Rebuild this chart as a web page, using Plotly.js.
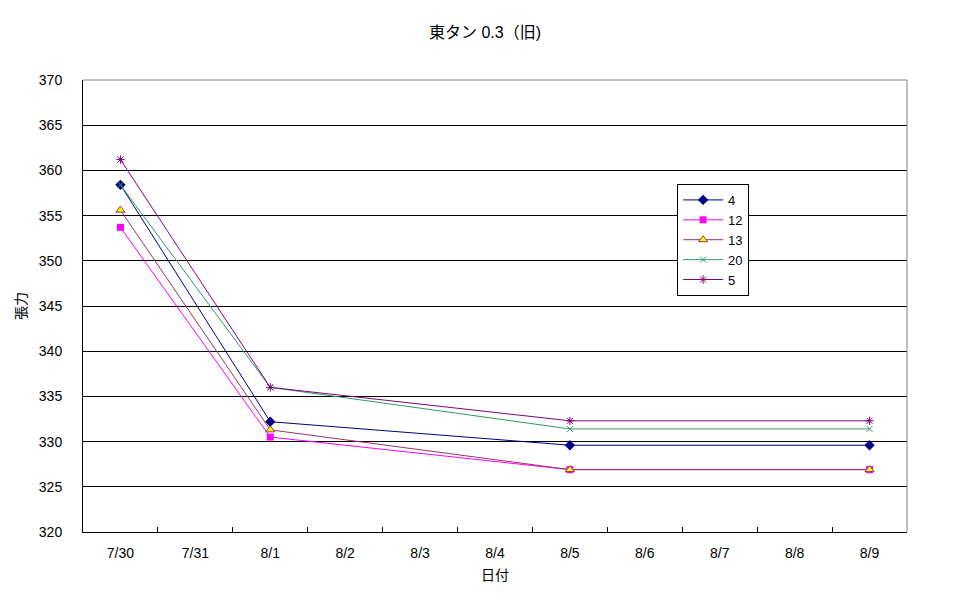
<!DOCTYPE html>
<html>
<head>
<meta charset="utf-8">
<script src="https://cdn.plot.ly/plotly-3.0.1.min.js"></script>
<style>html,body{margin:0;padding:0;background:#fff;}#chart{width:970px;height:603px;}</style>
</head>
<body>
<div id="chart"></div>
<script>
const dates = ['7/30','7/31','8/1','8/2','8/3','8/4','8/5','8/6','8/7','8/8','8/9'];
const s4  = [358.4, null, 332.2, null, null, null, 329.6, null, null, null, 329.6];
const s12 = [353.7, null, 330.5, null, null, null, 326.9, null, null, null, 326.9];
const s13 = [355.6, null, 331.3, null, null, null, 326.9, null, null, null, 326.9];
const s20 = [358.4, null, 336.0, null, null, null, 331.4, null, null, null, 331.4];
const s5  = [361.2, null, 336.0, null, null, null, 332.3, null, null, null, 332.3];
const seriesNames = ['4','12','13','20','5'];

const FONT = 'Liberation Sans, Arial, "Noto Sans CJK JP", sans-serif';

function tr(name, y, lineColor, marker) {
  return {
    type: 'scatter', mode: 'lines+markers', name: name,
    x: dates, y: y, connectgaps: true,
    line: {color: lineColor, width: 1},
    marker: marker
  };
}

const data = [
  tr(seriesNames[0], s4, '#000080', {symbol: 'diamond', size: 8, color: '#000080'}),
  tr(seriesNames[1], s12, '#FF00FF', {symbol: 'square', size: 7, color: '#FF00FF'}),
  tr(seriesNames[2], s13, '#993366', {symbol: 'triangle-up', size: 8, color: '#FFFF00', line: {color: '#993366', width: 1}}),
  tr(seriesNames[3], s20, '#339966', {symbol: 'x-thin', size: 6, color: '#339966', line: {color: '#339966', width: 1}}),
  tr(seriesNames[4], s5, '#800080', {symbol: 'asterisk', size: 7, color: '#800080', line: {color: '#800080', width: 1}})
];

const layout = {
  width: 970, height: 603,
  paper_bgcolor: '#ffffff', plot_bgcolor: '#ffffff',
  margin: {l: 83, r: 63, t: 80, b: 71},
  font: {family: FONT, size: 14, color: '#000'},
  title: {text: '東タン 0.3（旧)', x: 0.5, xref: 'container', y: 0.947, yanchor: 'middle', font: {family: FONT, size: 16, color: '#000'}},
  showlegend: true,
  legend: {
    x: 0.721, y: 0.770, xanchor: 'left', yanchor: 'top',
    bordercolor: '#000', borderwidth: 1, bgcolor: '#fff',
    font: {family: FONT, size: 13, color: '#000'},
    tracegroupgap: 0, itemwidth: 40
  },
  xaxis: {
    type: 'category', categoryorder: 'array', categoryarray: dates,
    range: [-0.5, 10.5],
    showgrid: false, zeroline: false,
    showline: true, linecolor: '#000', linewidth: 1,
    ticks: 'inside', tickson: 'boundaries', ticklen: 5, tickcolor: '#000', tickwidth: 1,
    ticklabelstandoff: 8,
    tickfont: {family: FONT, size: 14, color: '#000'},
    title: {text: '日付', font: {family: FONT, size: 14, color: '#000'}, standoff: 10},
    fixedrange: true
  },
  yaxis: {
    range: [320, 370], dtick: 5, tick0: 320,
    showgrid: true, gridcolor: '#000', gridwidth: 1,
    zeroline: false,
    showline: true, linecolor: '#000', linewidth: 1,
    ticks: '', ticklabelstandoff: 17,
    tickfont: {family: FONT, size: 14, color: '#000'},
    title: {text: '張力', font: {family: FONT, size: 14, color: '#000'}, standoff: 8},
    fixedrange: true
  },
  shapes: [
    {type: 'line', xref: 'paper', yref: 'paper', x0: 0, x1: 1, y0: 1, y1: 1, line: {color: '#808080', width: 1}, layer: 'above'},
    {type: 'line', xref: 'paper', yref: 'paper', x0: 1, x1: 1, y0: 0, y1: 1, line: {color: '#808080', width: 1}, layer: 'above'}
  ]
};

Plotly.newPlot('chart', data, layout, {displayModeBar: false, staticPlot: true});
</script>
</body>
</html>
